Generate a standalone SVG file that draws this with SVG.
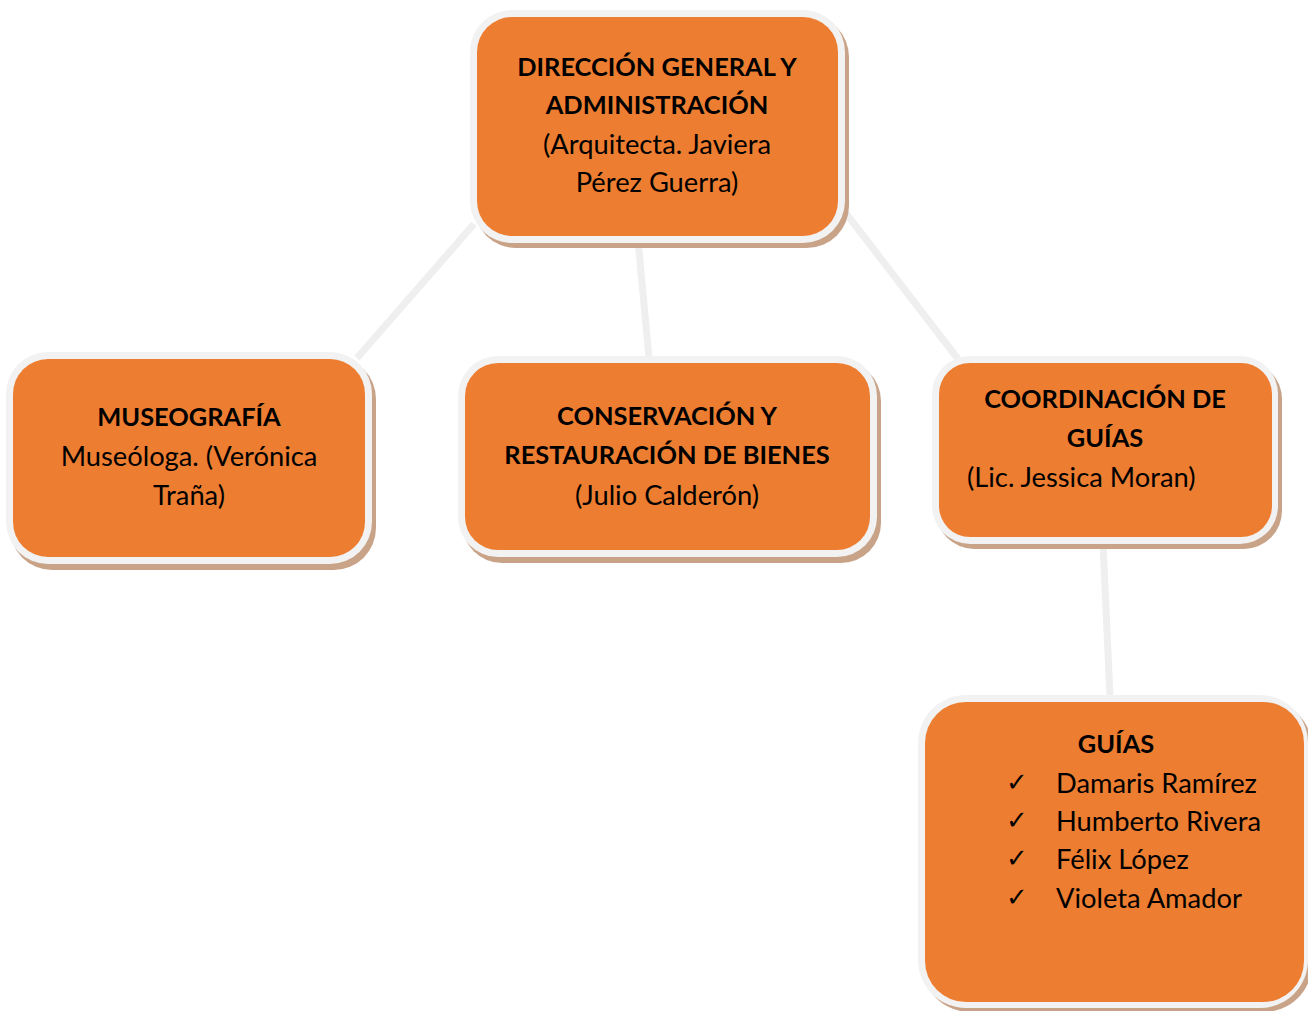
<svg xmlns="http://www.w3.org/2000/svg" width="1308" height="1011" viewBox="0 0 1308 1011">
<style>
.sh{fill:#C9A388}
.bd{fill:#F2F2F2}
.bx{fill:#ED7D31}
.conn line{stroke:#EFEFEF;stroke-width:7}
text{font-family:Lato,"Open Sans",sans-serif;font-size:27.3px;fill:#000}
.b{font-weight:bold;font-size:25.4px}
.c{text-anchor:middle}
.ck{font-family:"DejaVu Sans",sans-serif;font-size:26px;font-weight:bold}
</style>
<rect width="1308" height="1011" fill="#fff"/>
<g id="connectors" class="conn">
<line x1="474" y1="224" x2="357" y2="358"/>
<line x1="638" y1="240" x2="649" y2="358"/>
<line x1="845" y1="212" x2="958" y2="359"/>
<line x1="1103" y1="543" x2="1110" y2="697"/>
</g>
<g id="n-direccion">
<rect class="sh" x="474" y="15" width="375" height="233" rx="42"/>
<rect class="bd" x="470" y="10" width="375" height="233" rx="42"/>
<rect class="bx" x="477" y="17" width="361" height="219" rx="35"/>
<text class="b c" x="657" y="76">DIRECCIÓN GENERAL Y</text>
<text class="b c" x="657" y="114">ADMINISTRACIÓN</text>
<text class="c" x="657" y="154">(Arquitecta. Javiera</text>
<text class="c" x="657" y="192">Pérez Guerra)</text>
</g>
<g id="n-museografia">
<rect class="sh" x="10" y="357" width="366" height="213" rx="42"/>
<rect class="bd" x="6" y="352" width="366" height="212" rx="42"/>
<rect class="bx" x="13" y="359" width="352" height="198" rx="35"/>
<text class="b c" x="189" y="426">MUSEOGRAFÍA</text>
<text class="c" x="189" y="466">Museóloga. (Verónica</text>
<text class="c" x="189" y="505">Traña)</text>
</g>
<g id="n-conservacion">
<rect class="sh" x="462" y="361" width="419" height="202" rx="40"/>
<rect class="bd" x="458" y="356" width="419" height="201" rx="40"/>
<rect class="bx" x="465" y="363" width="405" height="187" rx="33"/>
<text class="b c" x="667" y="425">CONSERVACIÓN Y</text>
<text class="b c" x="667" y="464">RESTAURACIÓN DE BIENES</text>
<text class="c" x="667" y="505">(Julio Calderón)</text>
</g>
<g id="n-coordinacion">
<rect class="sh" x="936" y="361" width="346" height="188" rx="38"/>
<rect class="bd" x="932" y="356" width="346" height="188" rx="38"/>
<rect class="bx" x="939" y="363" width="333" height="174" rx="31"/>
<text class="b c" x="1105" y="408">COORDINACIÓN DE</text>
<text class="b c" x="1105" y="447">GUÍAS</text>
<text x="967" y="487">(Lic. Jessica Moran)</text>
</g>
<g id="n-guias">
<rect class="sh" x="922" y="700" width="390" height="312" rx="48"/>
<rect class="bd" x="918" y="695" width="390" height="313" rx="48"/>
<rect class="bx" x="925" y="702" width="379" height="300" rx="41"/>
<text class="b c" x="1116" y="753">GUÍAS</text>
<text class="ck" x="1006" y="791">✓</text>
<text x="1056" y="793">Damaris Ramírez</text>
<text class="ck" x="1006" y="829">✓</text>
<text x="1056" y="831">Humberto Rivera</text>
<text class="ck" x="1006" y="867">✓</text>
<text x="1056" y="869">Félix López</text>
<text class="ck" x="1006" y="906">✓</text>
<text x="1056" y="908">Violeta Amador</text>
</g>
</svg>
